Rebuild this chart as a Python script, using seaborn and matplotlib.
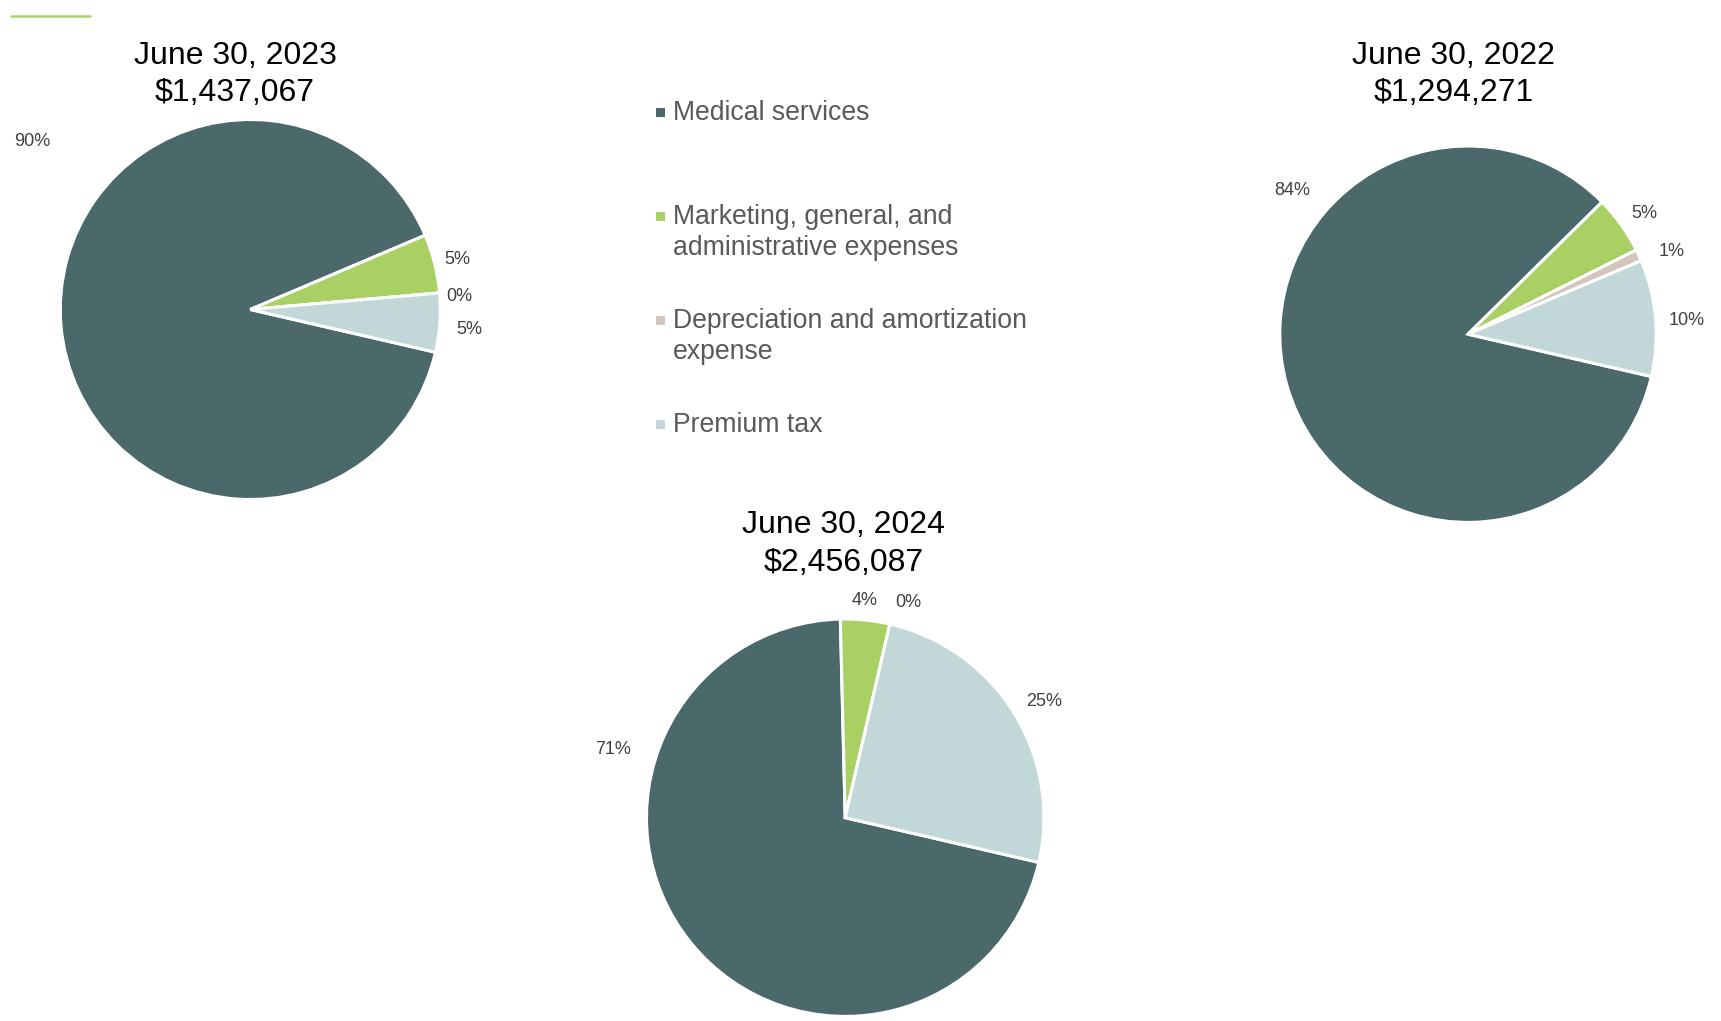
import numpy as np
import matplotlib
matplotlib.use("Agg")
import matplotlib.pyplot as plt
from matplotlib.lines import Line2D
from matplotlib.patches import Rectangle
import seaborn as sns

# ---- data -------------------------------------------------------------
categories = [
    "Medical services",
    "Marketing, general, and administrative expenses",
    "Depreciation and amortization expense",
    "Premium tax",
]
legend_lines = [
    ["Medical services"],
    ["Marketing, general, and", "administrative expenses"],
    ["Depreciation and amortization", "expense"],
    ["Premium tax"],
]

period_2023 = "June 30, 2023"
total_2023 = "$1,437,067"
shares_2023 = [90, 5, 0, 5]

period_2022 = "June 30, 2022"
total_2022 = "$1,294,271"
shares_2022 = [84, 5, 1, 10]

period_2024 = "June 30, 2024"
total_2024 = "$2,456,087"
shares_2024 = [71, 4, 0, 25]

# ---- style ------------------------------------------------------------
sns.set_theme(style="white")
plt.rcParams["font.family"] = ["Liberation Sans", "DejaVu Sans"]

W, H = 1721, 1021
DPI = 100
fig = plt.figure(figsize=(W / DPI, H / DPI), dpi=DPI)
fig.patch.set_facecolor("white")

palette = sns.color_palette(["#4B686B", "#A8D063", "#D2C6BD", "#C2D7D8"])
LABEL_COLOR = "#404040"
LEGEND_COLOR = "#595959"
PAD = 1.6


def fx(x):
    return x / W


def fy(y):
    return 1 - y / H


def pie_axes(cx, cy, r):
    half = r * PAD
    return fig.add_axes([fx(cx - half), fy(cy + half), 2 * half / W, 2 * half / H])


charts = [
    dict(period=period_2023, total=total_2023, shares=shares_2023,
         center=(250.3, 309.5), radius=190.0, title=(235, 74.3),
         label_pos=[(142.0, 1.454), (14.3, 1.122), (4.2, 1.101), (-4.6, 1.154)]),
    dict(period=period_2022, total=total_2022, shares=shares_2022,
         center=(1468.0, 334.2), radius=188.2, title=(1454, 74.3),
         label_pos=[(140.3, 1.217), (34.8, 1.140), (22.7, 1.173), (4.2, 1.166)]),
    dict(period=period_2024, total=total_2024, shares=shares_2024,
         center=(845.2, 817.7), radius=198.7, title=(844, 544),
         label_pos=[(163.1, 1.219), (84.9, 1.109), (73.7, 1.140), (30.8, 1.165)]),
]

for ch in charts:
    cx, cy = ch["center"]
    ax = pie_axes(cx, cy, ch["radius"])
    ax.pie(ch["shares"], colors=palette, startangle=-13, counterclock=False,
           radius=1, wedgeprops=dict(edgecolor="white", linewidth=2.2))
    ax.set_xlim(-PAD, PAD)
    ax.set_ylim(-PAD, PAD)
    ax.set_aspect("equal")
    ax.axis("off")
    for v, (ang, d) in zip(ch["shares"], ch["label_pos"]):
        t = np.deg2rad(ang)
        ax.annotate(f"{v}%", xy=(d * np.cos(t), d * np.sin(t)), xytext=(0, -2.2),
                    textcoords="offset pixels", ha="center", va="center",
                    fontsize=13, color=LABEL_COLOR, annotation_clip=False)
    tx, ty = ch["title"]
    fig.text(fx(tx), fy(ty), f"{ch['period']}\n{ch['total']}", ha="center",
             va="center", fontsize=23, linespacing=1.33, color="black")

# ---- legend -----------------------------------------------------------
LEG_X_MARK = 656
LEG_X_TEXT = 673
LEG_Y0 = 113.2
LEG_STEP = 104
LINE_GAP = 31
MARK = 9
for i, (lines, col) in enumerate(zip(legend_lines, palette)):
    y0 = LEG_Y0 + i * LEG_STEP
    fig.add_artist(Rectangle((fx(LEG_X_MARK), fy(y0 + MARK / 2 - 0.5)), MARK / W, MARK / H,
                             transform=fig.transFigure, facecolor=col, edgecolor="none"))
    for j, line in enumerate(lines):
        fig.text(fx(LEG_X_TEXT), fy(y0 + j * LINE_GAP), line, ha="left",
                 va="center", fontsize=19.2, color=LEGEND_COLOR)

# accent rule in the top-left corner
fig.add_artist(Line2D([fx(11), fx(90)], [fy(15.5), fy(15.5)], transform=fig.transFigure,
                      color="#A8D46A", linewidth=1.8))

fig.savefig("out.png", dpi=DPI, facecolor="white")
